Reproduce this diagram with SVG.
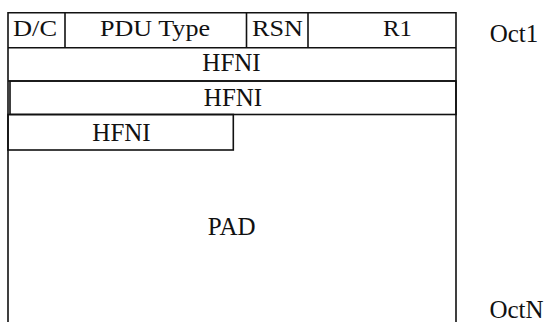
<svg xmlns="http://www.w3.org/2000/svg" width="545" height="322" viewBox="0 0 545 322">
<style>
.ln{fill:none;stroke:#111;stroke-width:1.6}
text{font-family:'Liberation Serif','Times New Roman',Times,serif;fill:#111;text-anchor:middle}
.r1{font-size:23px}
.b{font-size:25px}
</style>
<rect width="545" height="322" fill="#fff"/>
<g id="frame">
<path class="ln" d="M8,322 V12.7 H456 V322"/>
</g>
<g id="row-header">
<line class="ln" x1="8" y1="47.7" x2="456" y2="47.7"/>
<line class="ln" x1="65" y1="12.7" x2="65" y2="47.7"/>
<line class="ln" x1="246.5" y1="12.7" x2="246.5" y2="47.7"/>
<line class="ln" x1="308" y1="12.7" x2="308" y2="47.7"/>
</g>
<g id="dc"><text class="r1" font-family="Liberation Serif, serif" x="35" y="36" textLength="44" lengthAdjust="spacingAndGlyphs">D/C</text></g>
<g id="pdu-type"><text class="r1" font-family="Liberation Serif, serif" x="155" y="36" textLength="110" lengthAdjust="spacingAndGlyphs">PDU Type</text></g>
<g id="rsn"><text class="r1" font-family="Liberation Serif, serif" x="277.5" y="36" textLength="51" lengthAdjust="spacingAndGlyphs">RSN</text></g>
<g id="r1"><text class="r1" font-family="Liberation Serif, serif" x="397.5" y="36" textLength="29" lengthAdjust="spacingAndGlyphs">R1</text></g>
<g id="hfni-1">
<line class="ln" x1="8" y1="81" x2="456" y2="81"/>
<text class="b" font-family="Liberation Serif, serif" x="231.5" y="70.5">HFNI</text>
</g>
<g id="hfni-2">
<rect class="ln" x="10" y="81" width="446" height="33.5"/>
<text class="b" font-family="Liberation Serif, serif" x="233" y="105.5">HFNI</text>
</g>
<g id="hfni-3">
<rect class="ln" x="8" y="114.5" width="225.3" height="35.5"/>
<text class="b" font-family="Liberation Serif, serif" x="121.5" y="140.5">HFNI</text>
</g>
<g id="pad"><text class="b" font-family="Liberation Serif, serif" x="231.7" y="235">PAD</text></g>
<g id="oct1"><text class="b" font-family="Liberation Serif, serif" x="514" y="41.5">Oct1</text></g>
<g id="octn"><text class="b" font-family="Liberation Serif, serif" x="516.5" y="318">OctN</text></g>
<g id="connectors"/>
</svg>
